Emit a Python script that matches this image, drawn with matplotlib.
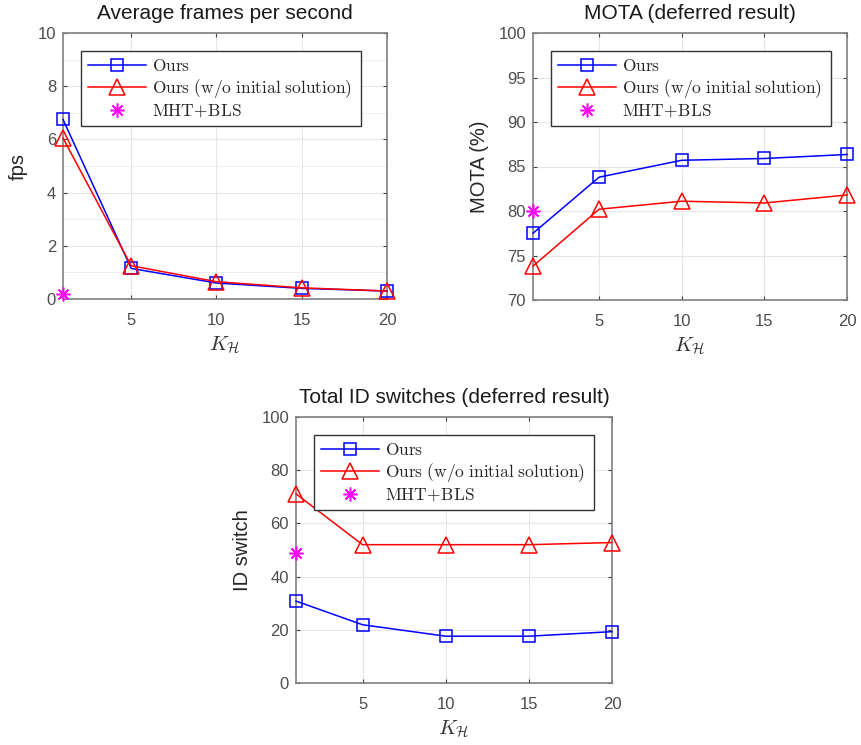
import matplotlib
matplotlib.use("Agg")
import matplotlib.pyplot as plt
from matplotlib.ticker import MultipleLocator

plt.rcParams['font.family'] = ['Liberation Sans', 'DejaVu Sans']
plt.rcParams['mathtext.fontset'] = 'cm'

k_values = [1, 5, 10, 15, 20]
mht_k = [1]

fps_ours = [6.75, 1.15, 0.6, 0.4, 0.3]
fps_noinit = [6.05, 1.25, 0.65, 0.42, 0.3]
fps_mht = [0.2]

mota_ours = [77.5, 83.8, 85.7, 85.9, 86.35]
mota_noinit = [73.8, 80.2, 81.1, 80.9, 81.8]
mota_mht = [80.0]

ids_ours = [30.8, 21.9, 17.6, 17.6, 19.3]
ids_noinit = [71.1, 52.0, 52.0, 52.0, 52.8]
ids_mht = [49.0]

legend_labels = [r'$\mathrm{Ours}$',
                 r'$\mathrm{Ours\ (w/o\ initial\ solution)}$',
                 r'$\mathrm{MHT\!+\!BLS}$']

panels = [
    dict(title='Average frames per second', ylabel='fps', ylim=(0, 10), major=2, minor=1,
         ours=fps_ours, noinit=fps_noinit, mht=fps_mht),
    dict(title='MOTA (deferred result)', ylabel='MOTA (%)', ylim=(70, 100), major=5, minor=None,
         ours=mota_ours, noinit=mota_noinit, mht=mota_mht),
    dict(title='Total ID switches (deferred result)', ylabel='ID switch', ylim=(0, 100), major=20, minor=None,
         ours=ids_ours, noinit=ids_noinit, mht=ids_mht),
]

W, H = 862, 745
rects_px = [(63, 33, 387, 299), (533, 33, 847, 300), (296, 417, 612, 683)]

fig = plt.figure(figsize=(W / 100, H / 100), dpi=100)
fig.patch.set_facecolor('white')

for p, (x0, y0, x1, y1) in zip(panels, rects_px):
    ax = fig.add_axes([x0 / W, 1 - y1 / H, (x1 - x0) / W, (y1 - y0) / H])
    ax.plot(k_values, p['ours'], color='#0000ff', marker='s', markersize=8.5,
            markerfacecolor='none', markeredgecolor='#0000ff', linewidth=1.1,
            markeredgewidth=1.1, label=legend_labels[0], zorder=3, clip_on=False)
    ax.plot(k_values, p['noinit'], color='#ff0000', marker='^', markersize=11,
            markerfacecolor='none', markeredgecolor='#ff0000', linewidth=1.1,
            markeredgewidth=1.1, label=legend_labels[1], zorder=3, clip_on=False)
    ax.plot(mht_k, p['mht'], linestyle='none', color='#ff00ff', marker=(8, 2, 0),
            markersize=10, markeredgewidth=1.1, label=legend_labels[2], zorder=4,
            clip_on=False)
    ax.set_xlim(1, 20)
    ax.set_ylim(*p['ylim'])
    ax.set_xticks([5, 10, 15, 20])
    ax.yaxis.set_major_locator(MultipleLocator(p['major']))
    ax.grid(True, which='major', color='#e6e6e6', linewidth=0.8, zorder=0)
    if p['minor']:
        ax.yaxis.set_minor_locator(MultipleLocator(p['minor']))
        ax.grid(True, which='minor', axis='y', color='#eeeeee', linewidth=0.7, zorder=0)
        ax.tick_params(axis='y', which='minor', length=0)
    ax.set_axisbelow(True)
    for s in ax.spines.values():
        s.set_color('#808080')
        s.set_linewidth(1.2)
    ax.tick_params(axis='both', which='major', direction='in', length=3,
                   color='#404040', labelcolor='#4d4d4d', labelsize=12,
                   top=True, right=True)
    ax.tick_params(axis='y', pad=5)
    ax.tick_params(axis='x', pad=10)
    ax.set_title(p['title'], fontsize=15, color='#1a1a1a', pad=10)
    ax.set_ylabel(p['ylabel'], fontsize=14.5, color='#262626', labelpad=7)
    ax.set_xlabel(r'$K_{\mathcal{H}}$', fontsize=15, color='#333333', labelpad=5)
    aw = x1 - x0
    leg = ax.legend(loc='upper left', bbox_to_anchor=(18 / aw, 0.667, 280 / aw, 0.266),
                    mode='expand', fontsize=12.5, handlelength=3.3, handletextpad=0.35,
                    labelspacing=0.15, borderaxespad=0, borderpad=0.42,
                    fancybox=False, framealpha=1, edgecolor='#333333')
    leg.get_frame().set_linewidth(1.0)
    for t in leg.get_texts():
        t.set_color('#262626')

fig.savefig('out.png', dpi=100, facecolor='white')
